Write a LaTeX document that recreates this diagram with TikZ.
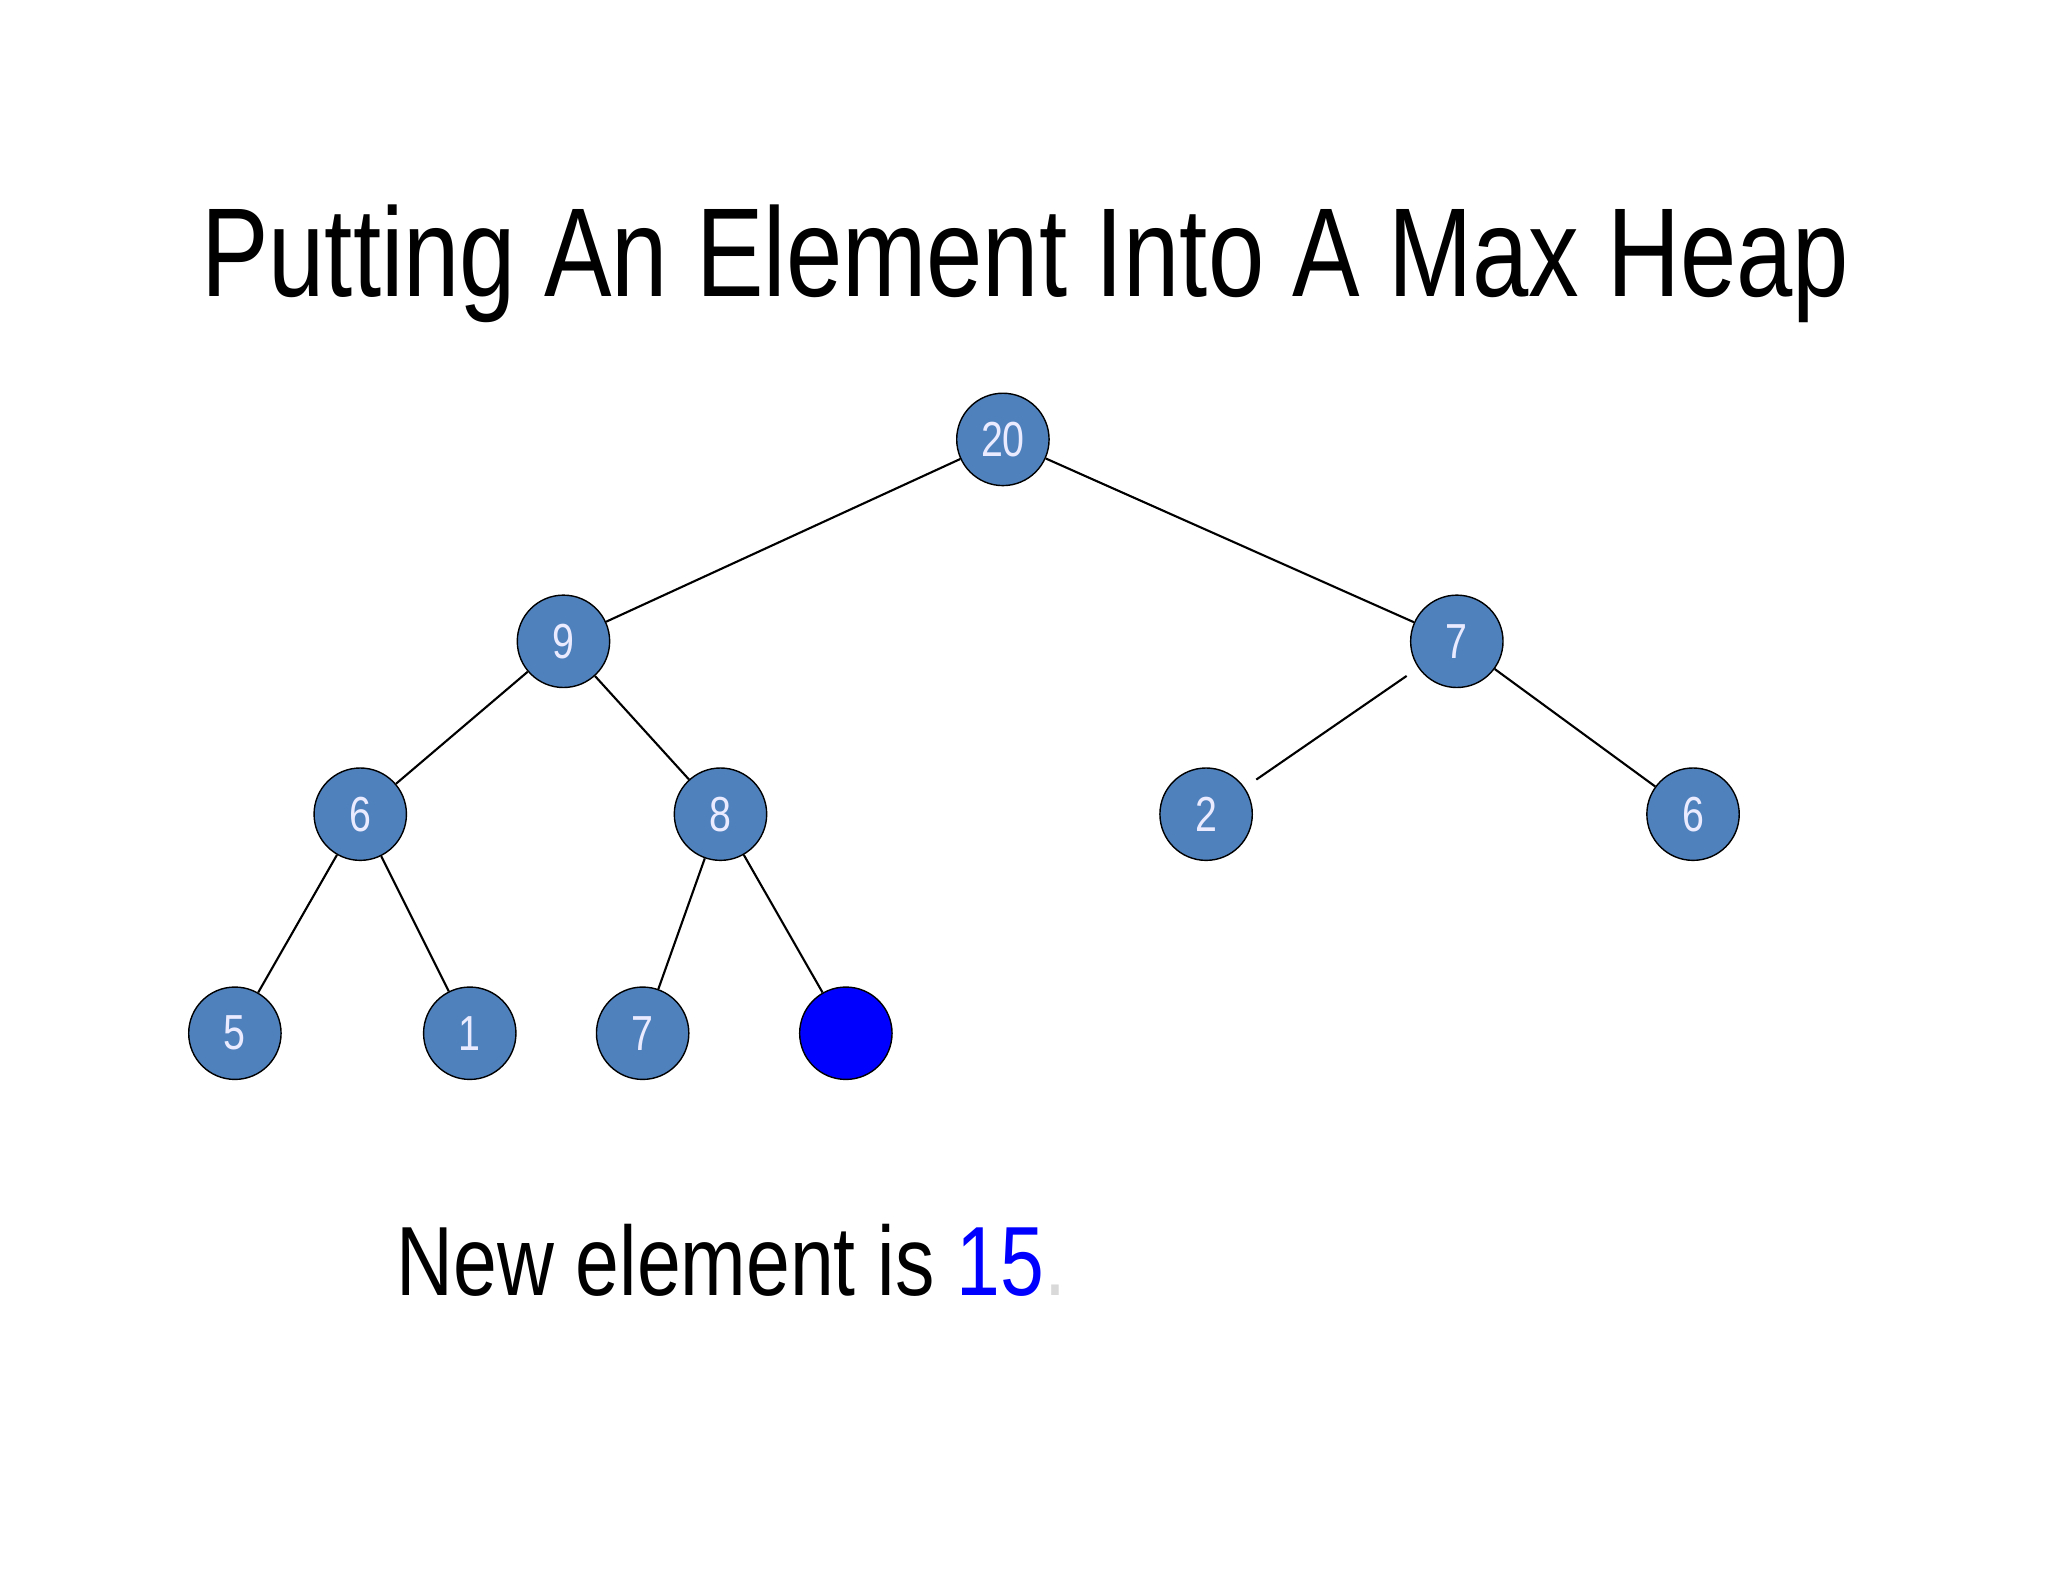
\documentclass[tikz,border=0pt]{standalone}
\usepackage{fontspec}
\setmainfont{Liberation Sans}
\newfontfamily\narrowfont[FakeStretch=0.8]{Liberation Sans}
\definecolor{nodeblue}{RGB}{79,129,189}
\begin{document}
\begin{tikzpicture}[x=0.013196cm,y=-0.013196cm,
  hn/.style={circle,draw=black,fill=nodeblue,minimum size=0.924cm,inner sep=0pt,text=white!92!blue,font=\narrowfont\fontsize{14}{14}\selectfont},
  ed/.style={draw=black,line width=0.6pt}]
\useasboundingbox[fill=white] (0,0) rectangle (1552,1199);
\node (title) at (777,200) {\narrowfont\fontsize{36}{36}\selectfont Putting An Element Into A Max Heap};
\node[hn] (a) at (760,333) {20};
\node[hn] (b) at (427,486) {9};
\node[hn] (c) at (1104,486) {7};
\node[hn] (d) at (273,617) {6};
\node[hn] (e) at (546,617) {8};
\node[hn] (f) at (914,617) {2};
\node[hn] (g) at (1283,617) {6};
\node[hn] (h) at (178,783) {5};
\node[hn] (i) at (356,783) {1};
\node[hn] (j) at (487,783) {7};
\node[hn,fill=blue] (k) at (641,783) {};
\draw[ed] (a) -- (b);
\draw[ed] (a) -- (c);
\draw[ed] (b) -- (d);
\draw[ed] (b) -- (e);
\draw[ed,shorten <=4pt,shorten >=4pt] (c) -- (f);
\draw[ed] (c) -- (g);
\draw[ed] (d) -- (h);
\draw[ed] (d) -- (i);
\draw[ed] (e) -- (j);
\draw[ed] (e) -- (k);
\node[anchor=base west,inner sep=0pt] (t) at (300,982) {\narrowfont\fontsize{28}{28}\selectfont New element is \textcolor{blue}{15}\textcolor{black!15}{.}};
\end{tikzpicture}
\end{document}
